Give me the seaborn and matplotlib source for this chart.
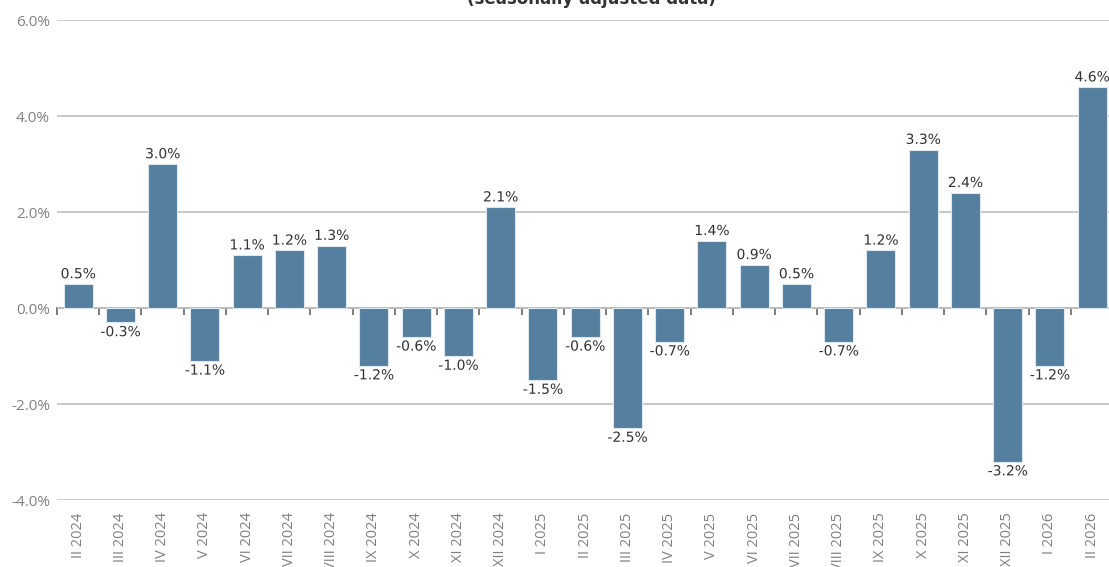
import matplotlib
matplotlib.use('Agg')
import matplotlib.pyplot as plt
import matplotlib.patheffects as pe
import seaborn as sns
import pandas as pd
import numpy as np

# data
periods = ['II 2024', 'III 2024', 'IV 2024', 'V 2024', 'VI 2024', 'VII 2024',
           'VIII 2024', 'IX 2024', 'X 2024', 'XI 2024', 'XII 2024', 'I 2025',
           'II 2025', 'III 2025', 'IV 2025', 'V 2025', 'VI 2025', 'VII 2025',
           'VIII 2025', 'IX 2025', 'X 2025', 'XI 2025', 'XII 2025', 'I 2026',
           'II 2026']
change = [0.5, -0.3, 3.0, -1.1, 1.1, 1.2, 1.3, -1.2, -0.6, -1.0, 2.1, -1.5,
          -0.6, -2.5, -0.7, 1.4, 0.9, 0.5, -0.7, 1.2, 3.3, 2.4, -3.2, -1.2, 4.6]
y_ticks = [-4, -2, 0, 2, 4, 6]
title = '(seasonally adjusted data)'

df = pd.DataFrame({'period': periods, 'change': change})

sns.set_theme(style='white')
plt.rcParams['font.family'] = ['DejaVu Sans']

fig = plt.figure(figsize=(11.09, 5.67), dpi=100)
ax = fig.add_axes([57 / 1109, 67 / 567, 1 - 57 / 1109, 480 / 567])

sns.barplot(data=df, x='period', y='change', color='#557f9e', saturation=1,
            width=0.69, ax=ax, zorder=3, edgecolor='#dfe6ec', linewidth=0.8)

ax.set_ylim(-4, 6)
ax.set_xlim(-0.5, len(periods) - 0.6)
ax.set_yticks(y_ticks)
ax.set_yticklabels([f'{v:.1f}%' for v in y_ticks], family='Open Sans',
                   color='#808080', fontsize=11)
ax.grid(axis='y', color='#c4c4c4', linewidth=1.3, zorder=0)
ax.tick_params(axis='y', length=0, pad=5)
ax.tick_params(axis='x', length=0, pad=9)
ax.set_xticks(range(len(periods)))
ax.set_xticklabels(periods, rotation=90, family='Open Sans', color='#808080',
                   fontsize=10.5, va='top')
ax.set_xlabel('')
ax.set_ylabel('')
for s in ax.spines.values():
    s.set_visible(False)

# zero axis with ticks between categories
zero = ax.secondary_xaxis(0.4)
zero.set_xticks(np.arange(len(periods)) - 0.5)
zero.set_xticklabels([])
zero.tick_params(direction='out', length=5, width=1.2, color='#666666')
zero.spines['bottom'].set_color('#666666')
zero.spines['bottom'].set_linewidth(1.3)
for k in ['top', 'left', 'right']:
    zero.spines[k].set_visible(False)

for c in ax.containers:
    labels = ax.bar_label(c, fmt='%.1f%%', padding=2, fontsize=10,
                          color='#333333')
    for t in labels:
        t.set_path_effects([pe.withStroke(linewidth=3, foreground='white')])

fig.text(0.533, 1 - 4 / 567, title, ha='center', va='baseline',
         fontsize=12, fontweight='bold', color='#333333')

fig.savefig('out.png', dpi=100)
